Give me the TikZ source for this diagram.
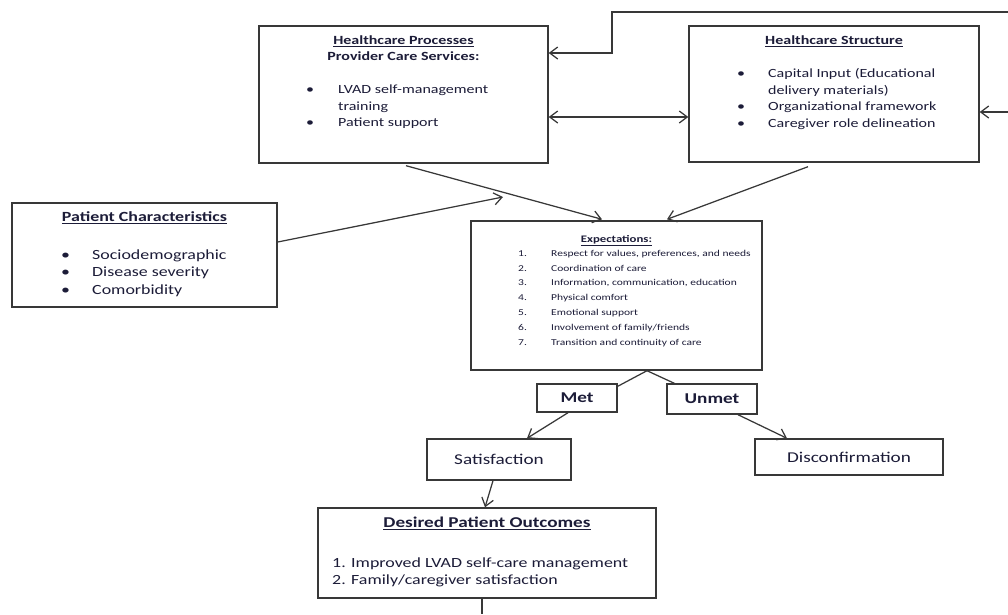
\documentclass[tikz,border=0pt]{standalone}
\usepackage{fontspec}
\setmainfont{Carlito}[FakeStretch=1.28]
\usetikzlibrary{arrows.meta,calc}
\definecolor{ink}{HTML}{1C1C38}
\definecolor{edge}{HTML}{383838}
\newcommand\fbig{\fontsize{12.5}{16.5}\selectfont}
\newcommand\fpat{\fontsize{14}{17.5}\selectfont}
\newcommand\fexp{\fontsize{9}{14.8}\selectfont}
\newcommand\fout{\fontsize{14}{17}\selectfont}
\newcommand\flab{\fontsize{15}{18}\selectfont}
\tikzset{
  box/.style={draw=edge, line width=1.4pt, inner sep=0pt, fill=white, text=ink},
  txt/.style={inner sep=0pt, anchor=mid west, text=ink},
  head/.style={inner sep=0pt, anchor=mid, text=ink},
  link/.style={draw=edge, line width=1.25pt},
  arr/.style={link, -{Straight Barb[length=8pt,width=12pt]}},
}

\begin{document}
\begin{tikzpicture}[x=1pt,y=-1pt]
\useasboundingbox (0,0) rectangle (1008,614);
% boxes
\node[box, minimum width=289pt, minimum height=137pt] (proc) at (403.5,94.5) {};
\node[box, minimum width=290pt, minimum height=136pt] (struc) at (834,94) {};
\node[box, minimum width=265pt, minimum height=104pt] (pat) at (144.5,255) {};
\node[box, minimum width=291pt, minimum height=149pt] (expt) at (616.5,295.5) {};
\node[box, minimum width=80pt, minimum height=28pt, font=\flab\bfseries] (met) at (577,398) {Met};
\node[box, minimum width=90pt, minimum height=30pt, font=\flab\bfseries] (unmet) at (712,399) {Unmet};
\node[box, minimum width=144pt, minimum height=41pt, font=\flab] (sat) at (499,459.5) {Satisfaction};
\node[box, minimum width=188pt, minimum height=36pt, font=\flab] (disc) at (849,457) {Disconfirmation};
\node[box, minimum width=338pt, minimum height=90pt] (des) at (487,553) {};

% healthcare processes
\node[head, font=\fbig\bfseries] (proct) at (403.5,42) {\underline{Healthcare Processes}};
\node[head, font=\fbig\bfseries] (procs) at (403.5,58.5) {Provider Care Services:};
\node[txt, font=\fbig] (procb1) at (306,91.5) {\textbullet};
\node[txt, font=\fbig] (procb2) at (306,124.5) {\textbullet};
\node[txt, font=\fbig] (proci1) at (338,91.5) {LVAD self-management};
\node[txt, font=\fbig] (proci2) at (338,108) {training};
\node[txt, font=\fbig] (proci3) at (338,124.5) {Patient support};

% healthcare structure
\node[head, font=\fbig\bfseries] (struct) at (834,42) {\underline{Healthcare Structure}};
\foreach \y [count=\i] in {75,108,125}
  \node[txt, font=\fbig] (strucb\i) at (737,\y) {\textbullet};
\node[txt, font=\fbig] (struci1) at (768,75) {Capital Input (Educational};
\node[txt, font=\fbig] (struci2) at (768,92) {delivery materials)};
\node[txt, font=\fbig] (struci3) at (768,108) {Organizational framework};
\node[txt, font=\fbig] (struci4) at (768,125) {Caregiver role delineation};

% patient characteristics
\node[head, font=\fpat\bfseries] (patt) at (144.5,219) {\underline{Patient Characteristics}};
\foreach \t [count=\i] in {Sociodemographic, Disease severity, Comorbidity} {
  \node[txt, font=\fpat] (patb\i) at (61,239.5+17.5*\i) {\textbullet};
  \node[txt, font=\fpat] (pati\i) at (92,239.5+17.5*\i) {\t};
}

% expectations
\node[head, font=\fontsize{10}{12}\selectfont\bfseries] (exptt) at (616.5,240) {\underline{Expectations:}};
\foreach \t [count=\i] in {{Respect for values, preferences, and needs}, Coordination of care,
    {Information, communication, education}, Physical comfort, Emotional support,
    Involvement of family/friends, Transition and continuity of care} {
  \node[txt, font=\fexp] (exptn\i) at (518,239.2+14.8*\i) {\i.};
  \node[txt, font=\fexp] (expti\i) at (551,239.2+14.8*\i) {\t};
}

% desired outcomes
\node[head, font=\flab\bfseries] (dest) at (487,525) {\underline{Desired Patient Outcomes}};
\node[txt, font=\fout] (desi1) at (332,565) {1. Improved LVAD self-care management};
\node[txt, font=\fout] (desi2) at (332,582) {2. Family/caregiver satisfaction};

% connectors
\coordinate (fbtop) at (1008,12);
\coordinate (fbright) at (1008,112);
\coordinate (patend) at (503,197);
\coordinate (apex) at ($(expt.south)+(30.5,0)$);
\coordinate (desout) at (482,614);
\draw[arr] (fbtop) -- (612,12) -- (612,53) -- (proc.east |- 0,53);
\draw[arr] (fbright) -- (struc.east |- fbright);
\draw[link, {Straight Barb[length=8pt,width=12pt]}-{Straight Barb[length=8pt,width=12pt]}]
  (proc.east |- 0,117) -- (struc.west |- 0,117);
\draw[arr] ($(proc.south)+(2.5,2)$) -- ($(expt.north)+(-14.5,-1)$);
\draw[arr] ($(struc.south)+(-26,4)$) -- ($(expt.north)+(50.5,-1)$);
\draw[arr] (pat.east |- 0,242) -- (patend);
\draw[link] (apex) -- ($(met.north east)+(0,3)$);
\draw[link] (apex) -- ($(unmet.north west)+(8,0)$);
\draw[arr] ($(met.south)+(-9,0)$) -- ($(sat.north)+(28,0)$);
\draw[arr] ($(unmet.south)+(26,0)$) -- ($(disc.north)+(-62,0)$);
\draw[arr] ($(sat.south)+(-6,0)$) -- ($(des.north)+(-2,0)$);
\draw[link] ($(des.south)+(-5,0)$) -- (desout);
\end{tikzpicture}
\end{document}
